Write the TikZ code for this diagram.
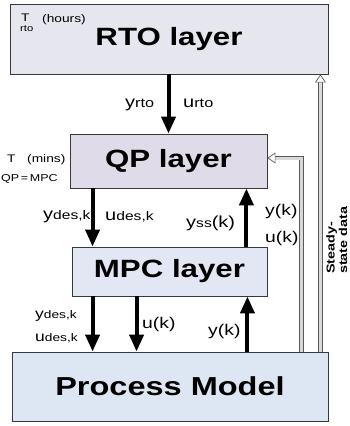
\documentclass[tikz,border=0pt]{standalone}
\usepackage{fontspec}
\setmainfont{Liberation Sans}[FakeStretch=1.25]
\usetikzlibrary{arrows.meta,calc}
\definecolor{rtofill}{RGB}{230,230,238}
\definecolor{qpfill}{RGB}{224,219,233}
\definecolor{mpcfill}{RGB}{227,230,243}
\definecolor{pmfill}{RGB}{221,231,243}
\definecolor{edgec}{RGB}{55,55,60}
\newcommand\fs[1]{\fontsize{#1}{#1}\selectfont}
\newcommand\vsub[4]{{\fs{#1}#2}{\fs{#3}#4}}
\begin{document}
\begin{tikzpicture}[x=1pt,y=-1pt,
  layer/.style={draw=edgec, line width=0.9pt, inner sep=0pt, font=\bfseries\fs{25}},
  big/.style={line width=4pt, -{Triangle[length=17pt,width=14pt]}},
  dbl/.style={draw=black!65, line width=0.7pt, double=black!15, double distance=3pt,
    -{Triangle[length=8pt,width=11pt,fill=white,line width=0.7pt]}},
  lab/.style={inner sep=0pt, anchor=base west},
]
\useasboundingbox (0,0) rectangle (350,426);
\fill[white] (0,0) rectangle (350,426);

% boxes
\node[layer, fill=rtofill, minimum width=318pt, minimum height=70pt] (rto) at (169,39) {RTO layer};
\node[layer, fill=qpfill, minimum width=197pt, minimum height=54pt] (qp) at (168.5,161) {QP layer};
\node[layer, fill=mpcfill, minimum width=195pt, minimum height=49pt] (mpc) at (169.5,271.5) {MPC layer};
\node[layer, fill=pmfill, minimum width=316pt, minimum height=69pt, font=\bfseries\fs{26}] (pm) at (170,386.5) {Process Model};

% helper coordinates
\coordinate (a1) at ([xshift=23pt]qp.south west);
\coordinate (a2) at ([xshift=-21pt]mpc.north east);
\coordinate (a3) at ([xshift=21pt]mpc.south west);
\coordinate (a4) at ([xshift=65pt]mpc.south west);
\coordinate (a5) at ([xshift=-20pt]mpc.south east);
\coordinate (d1) at ([xshift=-27pt]pm.north east);
\coordinate (d2) at ([xshift=-8pt]pm.north east);
\coordinate (qpin) at ([yshift=3pt]qp.east);

% thick arrows
\draw[big] (rto.south -| qp.north) -- (qp.north);
\draw[big] (a1) -- (a1 |- mpc.north);
\draw[big] (a2) -- (a2 |- qp.south);
\draw[big] (a3) -- (a3 |- pm.north);
\draw[big] (a4) -- (a4 |- pm.north);
\draw[big] (a5 |- pm.north) -- (a5);

% double arrows
\draw[dbl] (d1) |- (qpin);
\draw[dbl] (d2) -- (d2 |- rto.south);

% labels
\node[lab] (trto) at (21,21) {\fs{11}T};
\node[lab] (trtosub) at (20,31) {\fs{9}rto};
\node[lab] (hours) at (42,22) {\fs{11}(hours)};

\node[lab] (yrto) at (125,107) {\vsub{16}{y}{13}{rto}};
\node[lab] (urto) at (183,107) {\vsub{16}{u}{13}{rto}};

\node[lab] (tqp) at (7,162) {\fs{11}T};
\node[lab] (mins) at (27,162) {\fs{11}(mins)};
\node[lab] (tqpsub) at (1,181) {\fs{10}QP\,=\,MPC};

\node[lab] (ydes1) at (43,219) {\vsub{16}{y}{12.5}{des,k}};
\node[lab] (udes1) at (105,220) {\vsub{16}{u}{12.5}{des,k}};
\node[lab] (yss) at (186,227) {\vsub{16}{y}{12.5}{ss}{\fs{16}(k)}};
\node[lab] (yk1) at (265,215) {\fs{15.5}y(k)};
\node[lab] (uk1) at (265,242) {\fs{15.5}u(k)};

\node[lab] (ydes2) at (35,318) {\vsub{14}{y}{11}{des,k}};
\node[lab] (udes2) at (35,341) {\vsub{14}{u}{11}{des,k}};
\node[lab] (uk2) at (142,328) {\fs{15.5}u(k)};
\node[lab] (yk2) at (208,335) {\fs{15.5}y(k)};

\node[inner sep=0pt, rotate=90, anchor=north west, align=left, font=\bfseries\fontsize{11.5}{12.5}\selectfont] (ssd) at (326,274) {Steady-\\state data};
\end{tikzpicture}
\end{document}
